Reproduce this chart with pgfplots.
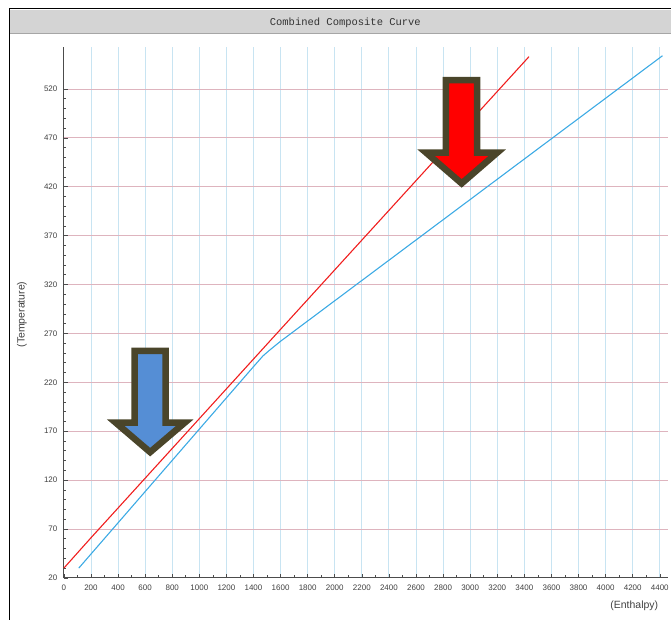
\documentclass[border=0pt]{standalone}
\usepackage{pgfplots}
\pgfplotsset{compat=1.18}
\usetikzlibrary{calc}
\usepackage{fontspec}
\setmainfont{Liberation Sans}
\newfontfamily\monofont{Liberation Mono}
\definecolor{redline}{RGB}{240,30,30}
\definecolor{blueline}{RGB}{60,170,228}
\definecolor{vgrid}{RGB}{200,228,242}
\definecolor{hgrid}{RGB}{222,180,190}
\definecolor{arrowedge}{RGB}{74,69,42}
\definecolor{arrowblue}{RGB}{85,142,213}
\definecolor{titlebar}{RGB}{212,212,212}
\begin{document}
\begin{tikzpicture}
\begin{axis}[
  scale only axis, width=605.2pt, height=532pt,
  xmin=0, xmax=4460, ymin=20, ymax=563,
  axis lines=left, axis line style={-, black!70, line width=0.8pt},
  xtick={0,200,...,4400}, ytick={20,70,...,520},
  minor x tick num=1, minor y tick num=4,
  tick align=inside,
  major tick length=4pt, minor tick length=2.5pt,
  tick style={black!70, line width=0.6pt},
  grid=major,
  x grid style={vgrid, line width=0.9pt},
  y grid style={hgrid, line width=0.9pt},
  ticklabel style={font=\fontsize{8}{9}\selectfont, text=black!75},
  /pgf/number format/assume math mode=true,
  /pgf/number format/1000 sep={},
  xticklabel style={yshift=-4pt},
  yticklabel style={xshift=-3pt},
  xlabel={(Enthalpy)},
  ylabel={(Temperature)},
  xlabel style={at={(axis description cs:0.9897,0)}, anchor=east, yshift=-28pt, font=\fontsize{10.5}{11}\selectfont, text=black!75},
  ylabel style={at={(axis description cs:-0.0694,0.496)}, anchor=center, font=\fontsize{10.5}{11}\selectfont, text=black!75},
  clip=false,
]
\coordinate (O) at (rel axis cs:0,0);
\addplot[redline, line width=1.1pt] coordinates {(0,30) (200,61) (1500,259) (3434,553)};
\addplot[blueline, line width=1.1pt] coordinates {(110,30) (1400,236) (1470,247) (1520,253) (1600,262) (4420,554)};
% annotation arrows
\filldraw[fill=arrowblue, draw=arrowedge, line width=6.5pt, line join=miter, miter limit=10]
  (axis cs:523,252.1) -- (axis cs:752,252.1) -- (axis cs:752,178.7) -- (axis cs:892,178.7)
  -- (axis cs:637,148.6) -- (axis cs:383,178.7) -- (axis cs:523,178.7) -- cycle;
\filldraw[fill=red, draw=arrowedge, line width=6.5pt, line join=miter, miter limit=10]
  (axis cs:2821,529.0) -- (axis cs:3052,529.0) -- (axis cs:3052,454.9) -- (axis cs:3200,454.9)
  -- (axis cs:2937,423.4) -- (axis cs:2674,454.9) -- (axis cs:2821,454.9) -- cycle;
\end{axis}
\begin{scope}[shift={(O)}, x=1pt, y=1pt]
\useasboundingbox (-64,-42) rectangle (608,579);
\fill[titlebar] (-54,546) rectangle (608,569);
\draw[gray!70, line width=0.8pt] (-54,546) -- (608,546);
\draw[black, line width=1.6pt] (-54.5,-42) -- (-54.5,570.5) -- (608,570.5);
\node[font={\monofont\fontsize{10.5}{12}\selectfont}, text=black!80] at (282,556.5) {Combined Composite Curve};
\end{scope}
\end{tikzpicture}
\end{document}
